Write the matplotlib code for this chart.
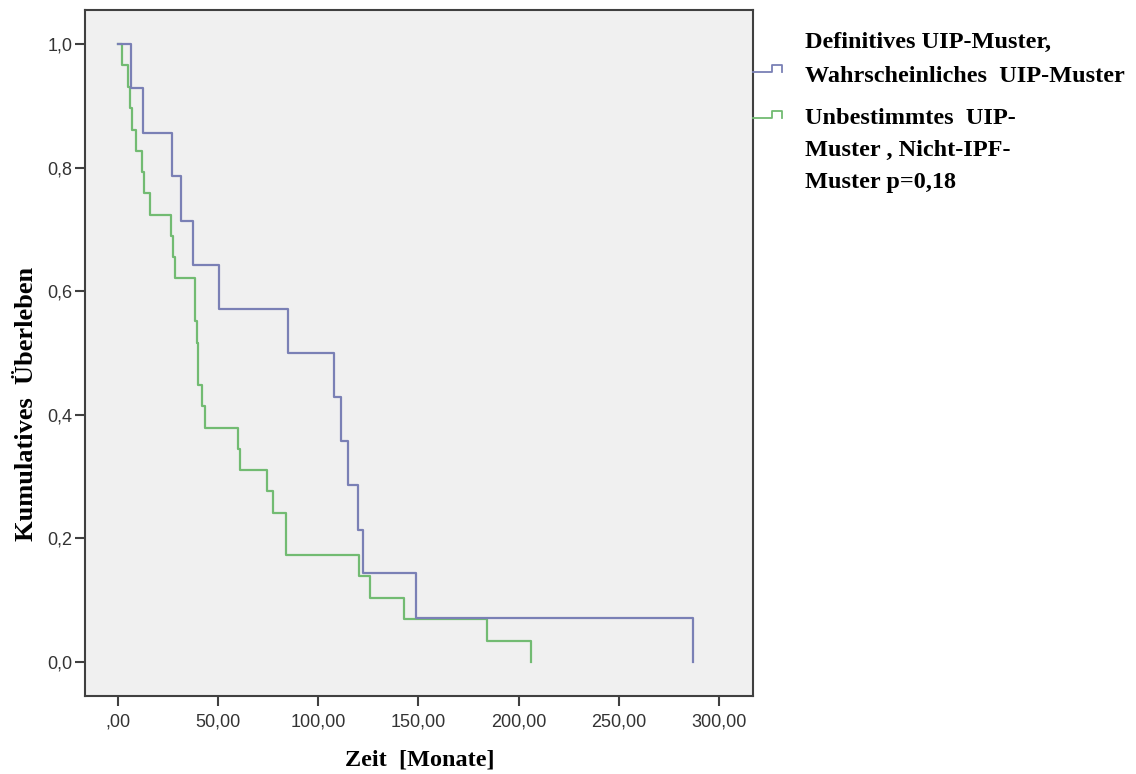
import matplotlib
matplotlib.use("Agg")
import matplotlib.pyplot as plt
from matplotlib.lines import Line2D

# Kaplan-Meier steps
blue_t = [0, 6.6, 12.5, 26.9, 31.6, 37.4, 50.5, 85.1, 108.1, 111.4, 115.1,
          119.8, 122.2, 148.7, 287.2]
blue_s = [1.0, 0.929, 0.857, 0.786, 0.714, 0.643, 0.571, 0.500, 0.429, 0.357,
          0.286, 0.214, 0.143, 0.071, 0.0]

green_t = [0, 2.3, 5.3, 6.1, 7.3, 9.0, 12.0, 13.3, 16.1, 26.4, 27.7, 28.6,
           38.6, 39.4, 40.2, 41.9, 43.6, 59.9, 61.0, 74.4, 77.6, 83.8, 120.6,
           125.9, 142.9, 184.1, 206.2]
green_s = [1.0, 0.966, 0.931, 0.897, 0.862, 0.828, 0.793, 0.759, 0.724, 0.690,
           0.655, 0.621, 0.552, 0.517, 0.448, 0.414, 0.379, 0.345, 0.310, 0.276,
           0.241, 0.172, 0.138, 0.103, 0.069, 0.034, 0.0]

x_ticks = [0, 50, 100, 150, 200, 250, 300]
x_labels = [",00", "50,00", "100,00", "150,00", "200,00", "250,00", "300,00"]
y_ticks = [0.0, 0.2, 0.4, 0.6, 0.8, 1.0]
y_labels = ["0,0", "0,2", "0,4", "0,6", "0,8", "1,0"]

legend_1 = ["Definitives UIP-Muster,", "Wahrscheinliches  UIP-Muster"]
legend_2 = ["Unbestimmtes  UIP-", "Muster , Nicht-IPF-", "Muster p=0,18"]

BLUE = "#7a80b5"
GREEN = "#72bb72"
W, H = 1136, 774

fig = plt.figure(figsize=(W / 100, H / 100), dpi=100)
ax = fig.add_axes([85 / W, 1 - 696 / H, (753 - 85) / W, (696 - 10) / H])
ax.set_facecolor("#f0f0f0")

ax.step(green_t, green_s, where="post", color=GREEN, lw=1.6, zorder=2)
ax.step(blue_t, blue_s, where="post", color=BLUE, lw=1.6, zorder=3)

ax.set_xlim(-16.3, 317)
ax.set_ylim(-0.0556, 1.0556)
ax.set_xticks(x_ticks)
ax.set_xticklabels(x_labels, fontfamily="Liberation Sans", fontsize=13, color="#333333")
ax.set_yticks(y_ticks)
ax.set_yticklabels(y_labels, fontfamily="Liberation Sans", fontsize=13, color="#333333")
ax.tick_params(axis="both", direction="out", length=7.5, width=1.5, color="#404040")
ax.tick_params(axis="x", pad=5)
ax.tick_params(axis="y", pad=1.5)
for sp in ax.spines.values():
    sp.set_color("#404040")
    sp.set_linewidth(1.5)

serif = dict(fontfamily="Liberation Serif", fontweight="bold", color="black")
fig.text(420 / W, 1 - 760 / H, "Zeit  [Monate]", ha="center", va="center",
         fontsize=17.5, **serif)
fig.text(27 / W, 1 - 404 / H, "Kumulatives  Überleben", ha="center", va="center",
         rotation=90, fontsize=19, **serif)

# legend drawn by hand outside the plot area
def legend_icon(y, color):
    xs = [753, 772, 772, 782, 782]
    ys = [y, y, y - 7, y - 7, y]
    fig.add_artist(Line2D([v / W for v in xs], [1 - v / H for v in ys],
                          color=color, lw=1.3, transform=fig.transFigure))

legend_icon(72, BLUE)
legend_icon(118, GREEN)

for txt, yb in zip(legend_1, [48, 82]):
    fig.text(805 / W, 1 - yb / H, txt, ha="left", va="baseline", fontsize=17.5, **serif)
for txt, yb in zip(legend_2, [124, 156, 188]):
    fig.text(805 / W, 1 - yb / H, txt, ha="left", va="baseline", fontsize=17.5, **serif)

fig.savefig("out.png", dpi=100)
